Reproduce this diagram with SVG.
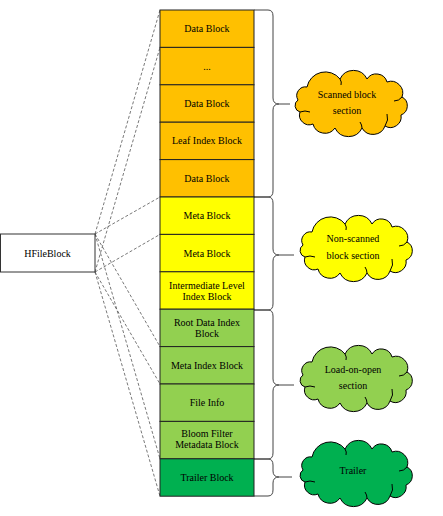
<svg xmlns="http://www.w3.org/2000/svg" xmlns:xlink="http://www.w3.org/1999/xlink" width="443" height="516" viewBox="0 0 443 516">
<style>
text{font-family:"Liberation Serif","Times New Roman",serif;font-size:10px;fill:#000;text-anchor:middle}
.blk{stroke:#222;stroke-width:1}
.orange{fill:#FFC000}
.yellow{fill:#FFFF00}
.lgreen{fill:#92D050}
.dgreen{fill:#00B050}
.dash{fill:none;stroke:#555;stroke-width:0.8;stroke-dasharray:3 2}
.brace{fill:none;stroke:#444;stroke-width:1}
.cloud-o{stroke:#000;stroke-width:1}
.cloud-i{fill:none;stroke:#000;stroke-width:1}
</style>
<defs>
<g id="cloud">
<path class="cloud-o" d="M3,30 A8.7,8.7 0 0 1 12,17 A18.7,18.7 0 0 1 45,9 A14.9,14.9 0 0 1 72,9 A11.1,11.1 0 0 1 92,12 A11.7,11.7 0 0 1 107,27 A9.9,9.9 0 0 1 106,45 A10.7,10.7 0 0 1 90,56 A12.7,12.7 0 0 1 67,58 A14.9,14.9 0 0 1 40,58 A12.3,12.3 0 0 1 18,54 A9.7,9.7 0 0 1 5,42 A6.7,6.7 0 0 1 3,30 Z"/>
<path class="cloud-i" d="M5,42 Q10,40 15,42 M90,56 Q94,50 92,44 M107,27 Q104,31 99,31 M45,9 Q47,12 46,15 M67,58 Q67,55 65,52"/>
</g>
</defs>
<rect width="443" height="516" fill="#fff"/>
<g id="connectors">
<line class="dash" x1="95" y1="234" x2="160" y2="10"/>
<line class="dash" x1="95" y1="272" x2="160" y2="47.4"/>
<line class="dash" x1="95" y1="234" x2="160" y2="197"/>
<line class="dash" x1="95" y1="272" x2="160" y2="234.4"/>
<line class="dash" x1="95" y1="234" x2="160" y2="346.6"/>
<line class="dash" x1="95" y1="272" x2="160" y2="384"/>
<line class="dash" x1="95" y1="234" x2="160" y2="458.8"/>
<line class="dash" x1="95" y1="272" x2="160" y2="496.2"/>
<path class="brace" d="M254,10 H268 Q273,10 273,16 V98 Q273,104 279,104 H290 M279,104 Q273,104 273,110 V191 Q273,197 268,197 H254"/>
<path class="brace" d="M254,197 H268 Q273,197 273,203 V249 Q273,255 279,255 H294 M279,255 Q273,255 273,261 V304 Q273,310 268,310 H254"/>
<path class="brace" d="M254,310 H268 Q273,310 273,316 V379 Q273,385 279,385 H294 M279,385 Q273,385 273,391 V453 Q273,459 268,459 H254"/>
<path class="brace" d="M254,459 H268 Q273,459 273,465 V471 Q273,477 279,477 H292 M279,477 Q273,477 273,483 V490 Q273,496 268,496 H254"/>
</g>
<g id="hfileblock">
<rect x="0.5" y="234" width="94.5" height="38" fill="#fff" stroke="#333" stroke-width="1"/>
<text x="47.5" y="256.5">HFileBlock</text>
</g>
<g id="block-data-1"><rect class="blk orange" x="160" y="10" width="94" height="37.4"/><text x="207" y="32.2">Data Block</text></g>
<g id="block-ellipsis"><rect class="blk orange" x="160" y="47.4" width="94" height="37.4"/><text x="207" y="69.6">...</text></g>
<g id="block-data-2"><rect class="blk orange" x="160" y="84.8" width="94" height="37.4"/><text x="207" y="107">Data Block</text></g>
<g id="block-leaf-index"><rect class="blk orange" x="160" y="122.2" width="94" height="37.4"/><text x="207" y="144.4">Leaf Index Block</text></g>
<g id="block-data-3"><rect class="blk orange" x="160" y="159.6" width="94" height="37.4"/><text x="207" y="181.8">Data Block</text></g>
<g id="block-meta-1"><rect class="blk yellow" x="160" y="197" width="94" height="37.4"/><text x="207" y="219.2">Meta Block</text></g>
<g id="block-meta-2"><rect class="blk yellow" x="160" y="234.4" width="94" height="37.4"/><text x="207" y="256.6">Meta Block</text></g>
<g id="block-intermediate"><rect class="blk yellow" x="160" y="271.8" width="94" height="37.4"/><text x="207" y="288.5">Intermediate Level</text><text x="207" y="299.5">Index Block</text></g>
<g id="block-root-index"><rect class="blk lgreen" x="160" y="309.2" width="94" height="37.4"/><text x="207" y="326">Root Data Index</text><text x="207" y="337">Block</text></g>
<g id="block-meta-index"><rect class="blk lgreen" x="160" y="346.6" width="94" height="37.4"/><text x="207" y="368.8">Meta Index Block</text></g>
<g id="block-file-info"><rect class="blk lgreen" x="160" y="384" width="94" height="37.4"/><text x="207" y="406.2">File Info</text></g>
<g id="block-bloom"><rect class="blk lgreen" x="160" y="421.4" width="94" height="37.4"/><text x="207" y="437">Bloom Filter</text><text x="207" y="448">Metadata Block</text></g>
<g id="block-trailer"><rect class="blk dgreen" x="160" y="458.8" width="94" height="37.4"/><text x="207" y="481">Trailer Block</text></g>
<g id="cloud-scanned"><use xlink:href="#cloud" href="#cloud" x="295" y="70" fill="#FFC000"/><text x="347" y="97.5">Scanned block</text><text x="347" y="114">section</text></g>
<g id="cloud-nonscanned"><use xlink:href="#cloud" href="#cloud" x="300" y="215" fill="#FFFF00"/><text x="353" y="242">Non-scanned</text><text x="353" y="259">block section</text></g>
<g id="cloud-loadonopen"><use xlink:href="#cloud" href="#cloud" x="300" y="345" fill="#92D050"/><text x="353" y="372.5">Load-on-open</text><text x="353" y="389">section</text></g>
<g id="cloud-trailer"><use xlink:href="#cloud" href="#cloud" x="300" y="440" fill="#00B050"/><text x="353" y="474">Trailer</text></g>
</svg>
